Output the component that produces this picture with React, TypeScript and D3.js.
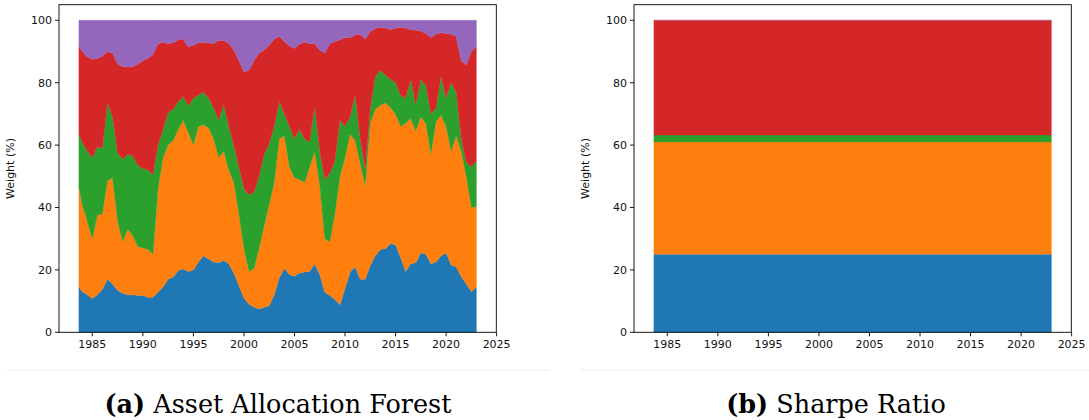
import React from "react";
import * as d3 from "d3";

// Sample dates (fractional years)
const years = [
  1983.67, 1984.0, 1984.5, 1985.0, 1985.5, 1986.0, 1986.5, 1987.0, 1987.5, 1988.0,
  1988.5, 1989.0, 1989.5, 1990.0, 1990.5, 1991.0, 1991.5, 1992.0, 1992.5, 1993.0,
  1993.5, 1994.0, 1994.5, 1995.0, 1995.5, 1996.0, 1996.5, 1997.0, 1997.5, 1998.0,
  1998.5, 1999.0, 1999.5, 2000.0, 2000.5, 2001.0, 2001.5, 2002.0, 2002.5, 2003.0,
  2003.5, 2004.0, 2004.5, 2005.0, 2005.5, 2006.0, 2006.5, 2007.0, 2007.5, 2008.0,
  2008.5, 2009.0, 2009.5, 2010.0, 2010.5, 2011.0, 2011.5, 2012.0, 2012.5, 2013.0,
  2013.5, 2014.0, 2014.5, 2015.0, 2015.5, 2016.0, 2016.5, 2017.0, 2017.5, 2018.0,
  2018.5, 2019.0, 2019.5, 2020.0, 2020.5, 2021.0, 2021.5, 2022.0, 2022.5, 2023.0,
];

// Cumulative stack levels (%): top edge of each band
const blueTop = [
  14.5, 13, 12, 10.8, 12, 13.8, 17, 15.5, 13.5, 12.5,
  12, 12, 11.8, 11.8, 11.2, 11.2, 12.8, 14.5, 17, 17.7,
  19.8, 20.3, 19.5, 20, 22.5, 24.5, 23.5, 22.5, 22.3, 23,
  22, 19, 15, 11, 9, 8, 7.5, 8, 8.5, 12,
  17.5, 20.5, 18.5, 18, 19, 19.3, 19.5, 22, 18.5, 12.8,
  11.8, 10.5, 8.8, 14, 19.3, 21, 17, 17, 21.4, 24.5,
  26.5, 26.8, 28.5, 28, 24, 19.5, 22, 22.3, 25.5, 25,
  22, 22.5, 24.5, 25.5, 21.5, 21, 17.8, 15.5, 13, 14.5,
];
const orangeTop = [
  46.5, 41, 35.5, 30, 37.5, 38, 48.5, 49.5, 35.5, 29,
  33, 31, 27.5, 27, 26.5, 25, 46, 56, 60, 61.5,
  65, 68, 64, 60, 66, 66.5, 65.5, 62, 56, 58,
  52, 48, 38, 27, 19.5, 20.5, 27, 34, 41, 48,
  62, 63, 53, 49.5, 49, 48, 53, 58, 47, 30,
  29, 38, 50, 56, 63.5, 61.5, 54, 47, 67, 71.5,
  72.8, 73.5, 72, 70, 66, 67, 68.5, 64.5, 69, 67,
  57, 67.5, 69.6, 66, 58, 63, 58, 50, 40, 40.3,
];
const greenTop = [
  63.5, 61, 58, 56, 59.5, 59, 73.5, 69, 57.5, 55.5,
  57, 56.5, 53.5, 52.5, 52, 50.5, 60, 65, 70.5, 71.5,
  74, 75.5, 72.5, 75, 76, 77, 75, 72, 68, 73,
  66, 60, 53, 46, 44, 45, 50, 57, 60.5, 66,
  74, 70, 66, 62, 65, 62, 61, 72.5, 58, 49,
  51, 55, 68, 66, 69, 76, 62, 52, 72, 82,
  84, 82.5, 81, 80, 76, 75, 81, 73, 81, 79,
  70, 72, 82, 75, 80, 77, 62, 54.5, 53, 55,
];
const redTop = [
  91.8, 90, 88.3, 87.5, 87.8, 88.5, 90, 89.4, 86, 85.1,
  85, 85.1, 86, 87, 87.8, 89, 92.5, 93, 92.5, 92.8,
  93.8, 94, 91.5, 92, 92.8, 93, 92.8, 92.5, 93.5, 93.5,
  92.5, 90.5, 87, 83.5, 84, 87, 89.5, 90.5, 92, 94,
  94.8, 93.2, 91.8, 91, 92.4, 93, 92.5, 92.6, 90.5, 89.5,
  92.5, 93.2, 93.8, 94.5, 94.5, 95.3, 95.5, 94, 96.4, 97.4,
  97.8, 97.5, 97, 97.5, 97.8, 97.5, 97, 96.8, 96.6, 95.8,
  94.5, 95.5, 96, 95.8, 95.5, 94.8, 87, 85.7, 90, 91.6,
];

// Panel (b): constant Sharpe-ratio weights (%)
const sharpeYears = [1983.67, 2023.0];
const sharpeWeights = [25, 36, 2.2, 36.8, 0];

const xTicks = [1985, 1990, 1995, 2000, 2005, 2010, 2015, 2020, 2025];
const yTicks = [0, 20, 40, 60, 80, 100];
const colors = ["#1f77b4", "#ff7f0e", "#2ca02c", "#d62728", "#9467bd"];
const captionsTag = ["(a)", "(b)"];
const captionsText = ["Asset Allocation Forest", "Sharpe Ratio"];
const yLabel = "Weight (%)";

const FONT = "'DejaVu Sans', sans-serif";

type PanelProps = { left: number; xs: number[]; weights: number[][] };

function Panel({ left, xs, weights }: PanelProps) {
  const width = 437.3;
  const top = 4.7;
  const bottom = 332.3;
  const ext = d3.extent(xs) as [number, number];
  const pad = (ext[1] - ext[0]) * 0.05;
  const x = d3.scaleLinear().domain([ext[0] - pad, ext[1] + pad]).range([left, left + width]);
  const y = d3.scaleLinear().domain([0, 105]).range([bottom, top]);

  const rows = xs.map((d, i) => {
    const r: any = { date: d };
    weights.forEach((w, k) => (r["s" + k] = w[i]));
    return r;
  });
  const keys = weights.map((_, k) => "s" + k);
  const series = d3.stack().keys(keys)(rows);
  const area = d3
    .area<any>()
    .x((d) => x(d.data.date))
    .y0((d) => y(d[0]))
    .y1((d) => y(d[1]));

  return (
    <g>
      {series.map((s, k) => (
        <path key={k} d={area(s) || ""} fill={colors[k]} stroke={colors[k]} strokeWidth={0.3} />
      ))}
      <rect x={left} y={top} width={width} height={bottom - top} fill="none" stroke="#000" strokeWidth={0.9} />
      {yTicks.map((t) => (
        <g key={t}>
          <line x1={left - 4} x2={left} y1={y(t)} y2={y(t)} stroke="#000" strokeWidth={0.9} />
          <text x={left - 7} y={y(t)} dy="0.35em" textAnchor="end" fontSize={11} fontFamily={FONT} fill="#111">
            {t}
          </text>
        </g>
      ))}
      {xTicks.map((t) => (
        <g key={t}>
          <line x1={x(t)} x2={x(t)} y1={bottom} y2={bottom + 4} stroke="#000" strokeWidth={0.9} />
          <text x={x(t)} y={bottom + 16} textAnchor="middle" fontSize={11} fontFamily={FONT} fill="#111">
            {t}
          </text>
        </g>
      ))}
      <text
        transform={`translate(${left - 45},${(top + bottom) / 2}) rotate(-90)`}
        textAnchor="middle"
        fontSize={11}
        fontFamily={FONT}
        fill="#111"
      >
        {yLabel}
      </text>
    </g>
  );
}

export default function App() {
  const levels = [blueTop, orangeTop, greenTop, redTop];
  const forestWeights = [0, 1, 2, 3, 4].map((k) =>
    years.map((_, i) => (k < 4 ? levels[k][i] : 100) - (k > 0 ? levels[k - 1][i] : 0))
  );
  const sharpe = sharpeWeights.map((w) => sharpeYears.map(() => w));
  const captionCenters = [278, 836];
  return (
    <svg width={1089} height={420} style={{ position: "absolute", left: 0, top: 0, background: "#fff" }}>
      <rect width={1089} height={420} fill="#fff" />
      <Panel left={59} xs={years} weights={forestWeights} />
      <Panel left={634} xs={sharpeYears} weights={sharpe} />
      <line x1={7} x2={549} y1={370} y2={370} stroke="#eeeeee" strokeWidth={1} />
      <line x1={580} x2={1089} y1={370} y2={370} stroke="#eeeeee" strokeWidth={1} />
      {captionCenters.map((c, i) => (
        <text key={i} x={c} y={413} textAnchor="middle" fontSize={25.5} fontFamily="'DejaVu Serif', serif" fill="#000">
          <tspan fontWeight="bold">{captionsTag[i]}</tspan>
          <tspan> {captionsText[i]}</tspan>
        </text>
      ))}
    </svg>
  );
}
